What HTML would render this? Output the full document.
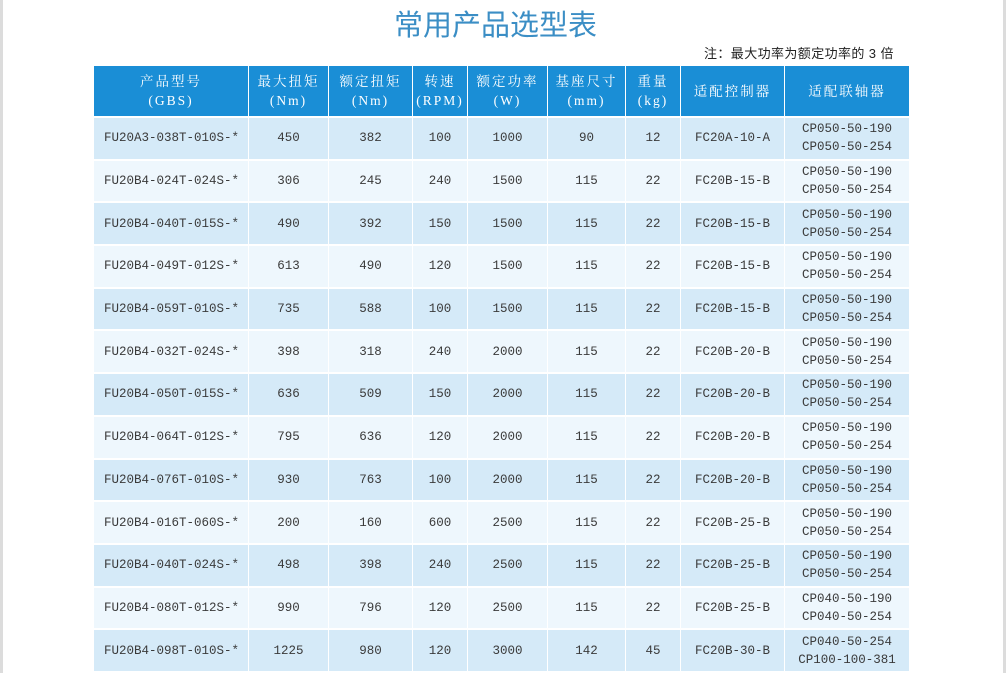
<!DOCTYPE html>
<html><head><meta charset="utf-8"><style>
body{margin:0;width:1006px;height:673px;background:#fff;position:relative;overflow:hidden;font-family:"Liberation Serif","Noto Serif CJK SC",serif;}
.lb{position:absolute;left:0;top:0;width:3px;height:673px;background:#dcdcdc}
.rb{position:absolute;right:0;top:0;width:3px;height:673px;background:#dcdcdc}
.title{position:absolute;left:394px;top:2px;font-size:29px;color:#3b8ec5;font-family:"Liberation Sans","Noto Sans CJK SC",sans-serif;letter-spacing:0px}
.note{position:absolute;left:704px;top:43px;font-size:13px;color:#222;font-family:"Liberation Sans","Noto Sans CJK SC",sans-serif;letter-spacing:0.4px}
table{position:absolute;left:93px;top:66px;border-collapse:collapse;table-layout:fixed}
td,th{text-align:center;padding:0;border:1px solid #fff;border-top:2px solid #fff;}
th{background:#1a8ed6;color:#fff;font-weight:normal;font-size:13.5px;height:50px;line-height:19px;border-top:none;letter-spacing:2px}
td{font-family:"Liberation Mono","Noto Serif CJK SC",monospace;font-size:12.5px;color:#3a3a3a;height:40.7px;line-height:18px}
tr:nth-child(odd) td{background:#d5eaf8}
tr:nth-child(even) td{background:#eef7fd}
</style></head><body>
<div class="lb"></div><div class="rb"></div>
<div class="title">常用产品选型表</div>
<div class="note">注：最大功率为额定功率的 3 倍</div>
<table>
<colgroup><col style="width:155px"><col style="width:80px"><col style="width:84px"><col style="width:55px"><col style="width:80px"><col style="width:78px"><col style="width:55px"><col style="width:104px"><col style="width:125px"></colgroup>
<thead><tr><th>产品型号<br>(GBS)</th><th>最大扭矩<br>(Nm)</th><th>额定扭矩<br>(Nm)</th><th>转速<br>(RPM)</th><th>额定功率<br>(W)</th><th>基座尺寸<br>(mm)</th><th>重量<br>(kg)</th><th>适配控制器</th><th>适配联轴器</th></tr></thead>
<tbody>
<tr><td style="text-align:left;padding-left:10px">FU20A3-038T-010S-*</td><td>450</td><td>382</td><td>100</td><td>1000</td><td>90</td><td>12</td><td>FC20A-10-A</td><td>CP050-50-190<br>CP050-50-254</td></tr>
<tr><td style="text-align:left;padding-left:10px">FU20B4-024T-024S-*</td><td>306</td><td>245</td><td>240</td><td>1500</td><td>115</td><td>22</td><td>FC20B-15-B</td><td>CP050-50-190<br>CP050-50-254</td></tr>
<tr><td style="text-align:left;padding-left:10px">FU20B4-040T-015S-*</td><td>490</td><td>392</td><td>150</td><td>1500</td><td>115</td><td>22</td><td>FC20B-15-B</td><td>CP050-50-190<br>CP050-50-254</td></tr>
<tr><td style="text-align:left;padding-left:10px">FU20B4-049T-012S-*</td><td>613</td><td>490</td><td>120</td><td>1500</td><td>115</td><td>22</td><td>FC20B-15-B</td><td>CP050-50-190<br>CP050-50-254</td></tr>
<tr><td style="text-align:left;padding-left:10px">FU20B4-059T-010S-*</td><td>735</td><td>588</td><td>100</td><td>1500</td><td>115</td><td>22</td><td>FC20B-15-B</td><td>CP050-50-190<br>CP050-50-254</td></tr>
<tr><td style="text-align:left;padding-left:10px">FU20B4-032T-024S-*</td><td>398</td><td>318</td><td>240</td><td>2000</td><td>115</td><td>22</td><td>FC20B-20-B</td><td>CP050-50-190<br>CP050-50-254</td></tr>
<tr><td style="text-align:left;padding-left:10px">FU20B4-050T-015S-*</td><td>636</td><td>509</td><td>150</td><td>2000</td><td>115</td><td>22</td><td>FC20B-20-B</td><td>CP050-50-190<br>CP050-50-254</td></tr>
<tr><td style="text-align:left;padding-left:10px">FU20B4-064T-012S-*</td><td>795</td><td>636</td><td>120</td><td>2000</td><td>115</td><td>22</td><td>FC20B-20-B</td><td>CP050-50-190<br>CP050-50-254</td></tr>
<tr><td style="text-align:left;padding-left:10px">FU20B4-076T-010S-*</td><td>930</td><td>763</td><td>100</td><td>2000</td><td>115</td><td>22</td><td>FC20B-20-B</td><td>CP050-50-190<br>CP050-50-254</td></tr>
<tr><td style="text-align:left;padding-left:10px">FU20B4-016T-060S-*</td><td>200</td><td>160</td><td>600</td><td>2500</td><td>115</td><td>22</td><td>FC20B-25-B</td><td>CP050-50-190<br>CP050-50-254</td></tr>
<tr><td style="text-align:left;padding-left:10px">FU20B4-040T-024S-*</td><td>498</td><td>398</td><td>240</td><td>2500</td><td>115</td><td>22</td><td>FC20B-25-B</td><td>CP050-50-190<br>CP050-50-254</td></tr>
<tr><td style="text-align:left;padding-left:10px">FU20B4-080T-012S-*</td><td>990</td><td>796</td><td>120</td><td>2500</td><td>115</td><td>22</td><td>FC20B-25-B</td><td>CP040-50-190<br>CP040-50-254</td></tr>
<tr><td style="text-align:left;padding-left:10px">FU20B4-098T-010S-*</td><td>1225</td><td>980</td><td>120</td><td>3000</td><td>142</td><td>45</td><td>FC20B-30-B</td><td>CP040-50-254<br>CP100-100-381</td></tr>
</tbody></table>
</body></html>
